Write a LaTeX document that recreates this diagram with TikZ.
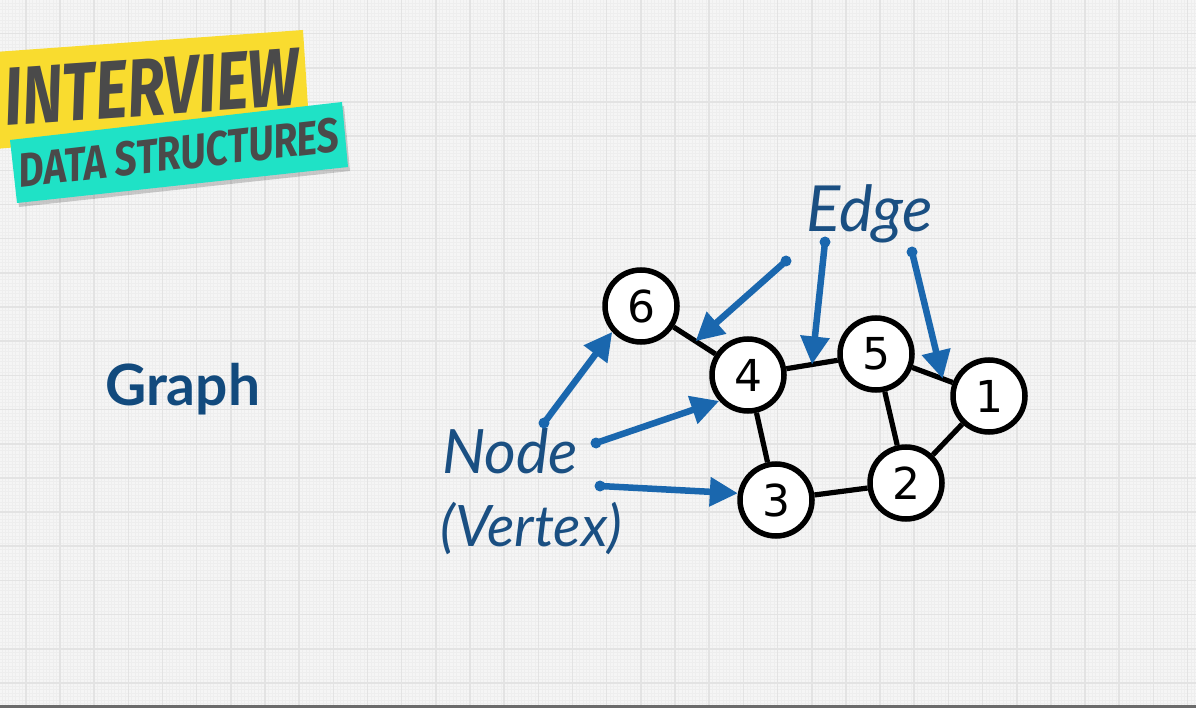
\documentclass[tikz,border=0pt]{standalone}
\usepackage{fontspec}
\setmainfont{Lato}
\newfontfamily\digitfont{DejaVu Sans}
\newfontfamily\bannerfont{Fira Sans}
\usetikzlibrary{arrows.meta,calc}

\definecolor{paper}{HTML}{F5F5F5}
\definecolor{gridmajor}{HTML}{E3E3E3}
\definecolor{gridminor}{HTML}{EEEEEE}
\definecolor{banneryellow}{HTML}{F9DC2F}
\definecolor{bannerteal}{HTML}{1FE2C6}
\definecolor{bannerink}{HTML}{4A4A4A}
\definecolor{titleblue}{HTML}{124A7D}
\definecolor{labelblue}{HTML}{1A4F82}
\definecolor{pointerblue}{HTML}{1A67AE}

\newcommand{\fitbox}[3]{\resizebox{#1}{#2}{#3}}

\tikzset{
  vertex/.style={circle, draw=black, line width=5.5pt, fill=white,
    minimum size=72pt, inner sep=0pt, font=\digitfont\fontsize{44}{44}\selectfont},
  link/.style={line width=5.2pt, black},
  pointer/.style={line width=6.5pt, pointerblue, line cap=round,
    -{Triangle[length=28pt,width=28pt]}},
  tailspot/.style={fill=pointerblue},
  label/.style={inner sep=0pt, text=labelblue, anchor=base west},
}

\begin{document}
\begin{tikzpicture}[x=1pt,y=-1pt]
\useasboundingbox (0,0) rectangle (1196,708);

% paper with fine and coarse grid
\fill[paper] (0,0) rectangle (1196,708);
\begin{scope}
  \clip (0,0) rectangle (1196,708);
  \foreach \i in {-8,...,352}
    \draw[gridminor, line width=0.5pt] (25.8+3.417*\i,0) -- (25.8+3.417*\i,708);
  \foreach \j in {0,...,210}
    \draw[gridminor, line width=0.5pt] (0,-0.5+3.417*\j) -- (1196,-0.5+3.417*\j);
  \foreach \i in {-1,...,35}
    \draw[gridmajor, line width=1.6pt] (25.8+34.17*\i,0) -- (25.8+34.17*\i,708);
  \foreach \j in {1,...,21}
    \draw[gridmajor, line width=1.6pt] (0,-0.5+34.17*\j) -- (1196,-0.5+34.17*\j);
\end{scope}
\fill[black!58] (0,705) rectangle (1196,708);

% title banners
\fill[banneryellow] (-5,52) -- (303,30) -- (309,122) -- (-5,149) -- cycle;
\fill[black, opacity=0.18] (12,144) -- (344,106) -- (350,171) -- (19,207) -- cycle;
\fill[bannerteal] (10,140) -- (342,102) -- (348,167) -- (17,203) -- cycle;
\node[rotate=4, inner sep=0pt, text=bannerink] (bannertop) at (152,87)
  {\fitbox{295pt}{57pt}{\bannerfont\bfseries\itshape INTERVIEW}};
\node[rotate=6.5, inner sep=0pt, text=bannerink] (bannerbottom) at (179,153)
  {\fitbox{322pt}{34pt}{\bannerfont\bfseries\itshape DATA STRUCTURES}};

% heading
\node[inner sep=0pt, anchor=base west, text=titleblue] (heading) at (105,405)
  {\fitbox{155pt}{!}{\fontsize{40}{40}\selectfont\bfseries Graph}};

% graph
\node[vertex] (n6) at (641,306) {6};
\node[vertex] (n4) at (748,375) {4};
\node[vertex] (n5) at (876,354) {5};
\node[vertex] (n1) at (989,396) {1};
\node[vertex] (n2) at (906,483) {2};
\node[vertex] (n3) at (776,500) {3};

\draw[link] (n6) -- (n4);
\draw[link] (n4) -- (n5);
\draw[link] (n4) -- (n3);
\draw[link] (n5) -- (n1);
\draw[link] (n5) -- (n2);
\draw[link] (n1) -- (n2);
\draw[link] (n3) -- (n2);

% labels
\node[label] (edgetext) at (806,232)
  {\fitbox{127pt}{!}{\fontsize{48}{48}\selectfont\itshape Edge}};
\node[label] (nodetext) at (442,473)
  {\fitbox{136pt}{!}{\fontsize{48}{48}\selectfont\itshape Node}};
\node[label] (vertextext) at (440,546)
  {\fitbox{182pt}{!}{\fontsize{48}{48}\selectfont\itshape (Vertex)}};

% pointers
\coordinate (ta) at (544,423);
\coordinate (tb) at (596,443);
\coordinate (tc) at (600,486);
\coordinate (td) at (786,261);
\coordinate (te) at (825,242);
\coordinate (tf) at (912,252);
\coordinate (e64) at ($(n6)!0.51!(n4)$);
\coordinate (e45) at ($(n4)!0.50!(n5)$);
\coordinate (e51) at ($(n5)!0.59!(n1)$);

\foreach \t in {ta,tb,tc,td,te,tf}
  \fill[tailspot] (\t) circle (5.5pt);
\draw[pointer] (ta) -- (n6.222);
\draw[pointer] (tb) -- (n4.222);
\draw[pointer] (tc) -- (n3.170);
\draw[pointer] (td) -- (e64);
\draw[pointer] (te) -- (e45);
\draw[pointer] (tf) -- (e51);
\end{tikzpicture}
\end{document}
